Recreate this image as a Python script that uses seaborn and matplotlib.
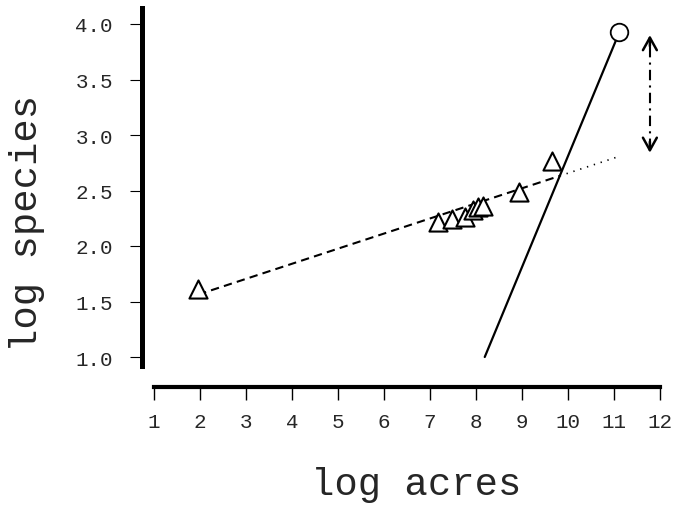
import numpy as np
import matplotlib
matplotlib.use("Agg")
import matplotlib.pyplot as plt
import seaborn as sns

# island points (triangles) and the mainland point (circle)
island_x = [1.96, 7.17, 7.47, 7.75, 7.93, 8.04, 8.15, 8.93, 9.65]
island_y = [1.61, 2.22, 2.24, 2.26, 2.32, 2.35, 2.36, 2.49, 2.77]
mainland_x = [11.1]
mainland_y = [3.93]

# fitted lines: intercept, slope and x range
island_fit = [1.296, 0.136]
island_dash_range = [1.96, 9.82]
island_dot_range = [9.82, 11.07]
mainland_fit = [-7.19, 1.0]
mainland_range = [8.19, 11.1]

# gap arrow (x, y from, y to)
gap_x = 11.78
gap_y = [2.84, 3.90]

x_ticks = list(range(1, 13))
y_ticks = [1.0, 1.5, 2.0, 2.5, 3.0, 3.5, 4.0]
y_tick_labels = ["1.0", "1.5", "2.0", "2.5", "3.0", "3.5", "4.0"]

sns.set_style("white")
plt.rcParams['font.family'] = ['Liberation Mono', 'DejaVu Sans']

fig = plt.figure(figsize=(6.77, 5.06), dpi=100)
ax = fig.add_axes([142 / 677, 1 - 367 / 506, 523 / 677, 358 / 506])


def line_pts(fit, xr):
    xs = np.array(xr)
    return xs, fit[0] + fit[1] * xs


xs, ys = line_pts(island_fit, island_dash_range)
sns.lineplot(x=xs, y=ys, color='black', lw=1.5, ax=ax)
ax.lines[-1].set_dashes((4, 2.5))

xs, ys = line_pts(island_fit, island_dot_range)
sns.lineplot(x=xs, y=ys, color='black', lw=1.2, ax=ax)
ax.lines[-1].set_dashes((0.8, 3.5))

xs, ys = line_pts(mainland_fit, mainland_range)
sns.lineplot(x=xs, y=ys, color='black', lw=1.6, ax=ax)

sns.scatterplot(x=island_x, y=island_y, marker='^', s=170, color='white',
                edgecolor='black', linewidth=1.5, zorder=3, ax=ax)
sns.scatterplot(x=mainland_x, y=mainland_y, marker='o', s=160, color='white',
                edgecolor='black', linewidth=1.3, zorder=3, ax=ax)

# dash-dot double arrow showing the gap
ax.plot([gap_x, gap_x], [gap_y[0] + 0.03, gap_y[1] - 0.03], color='black',
        lw=1.5, dashes=(5, 2.5, 1, 2.5))
for ya, yb in [(gap_y[1] - 0.1, gap_y[1]), (gap_y[0] + 0.1, gap_y[0])]:
    ax.annotate("", xy=(gap_x, yb), xytext=(gap_x, ya),
                arrowprops=dict(arrowstyle='->, head_length=0.45, head_width=0.25',
                                color='black', lw=1.8, mutation_scale=20,
                                shrinkA=0, shrinkB=0))

ax.set_xlim(1 - 12 / 46, 12 + 5 / 46)
ax.set_ylim(1 - 9 / 111, 4 + 16 / 111)

for s in ['top', 'right']:
    ax.spines[s].set_visible(False)
ax.spines['left'].set_linewidth(3.6)
ax.spines['bottom'].set_linewidth(3.0)
ax.spines['left'].set_color('black')
ax.spines['bottom'].set_color('black')
ax.spines['bottom'].set_position(('outward', 15))
ax.spines['bottom'].set_bounds(1, 12)

ax.set_xticks(x_ticks)
ax.set_xticklabels([str(t) for t in x_ticks])
ax.set_yticks(y_ticks)
ax.set_yticklabels(y_tick_labels)
ax.tick_params(axis='x', bottom=True, direction='out', length=9, width=1.0,
               pad=9, labelsize=15, color='black')
ax.tick_params(axis='y', left=True, direction='out', length=9, width=0.8,
               pad=12, labelsize=15, color='black')

ax.set_xlabel("log acres", fontsize=28)
ax.xaxis.label.set_va('center')
ax.xaxis.set_label_coords((416 - 142) / 523, (367 - 485) / 358)
ax.set_ylabel("log species", fontsize=28)
ax.yaxis.label.set_va('center')
ax.yaxis.label.set_rotation_mode('default')
ax.yaxis.set_label_coords((27 - 142) / 523, (367 - 223) / 358)

fig.savefig("out.png", dpi=100)
